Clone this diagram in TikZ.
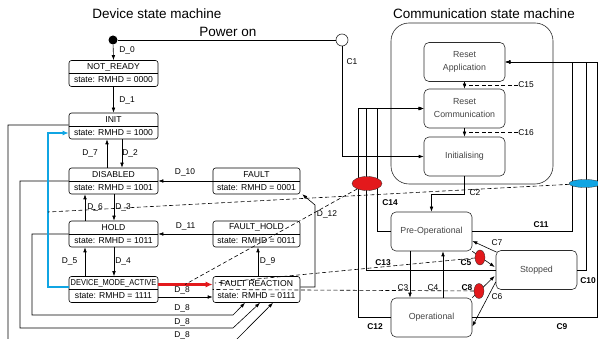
\documentclass[tikz,border=0pt]{standalone}
\usepackage{fontspec}
\setmainfont{Liberation Sans}
\usepackage{graphicx}
\usetikzlibrary{arrows.meta,shapes.geometric}
\definecolor{lnc}{HTML}{2B2B2B}
\definecolor{redc}{HTML}{E3191C}
\definecolor{bluec}{HTML}{10A5E3}
\definecolor{txtc}{HTML}{444444}
\newcommand\devbox[6]{%
  \node[dbox,#6] (#1) at (#2,#3) {};
  \draw[line width=0.6pt] (#1.west) -- (#1.east);
  \node[btxt] (#1t) at ([yshift=6.4pt]#1.center) {#4};
  \node[btxt] (#1s) at ([yshift=-6.4pt]#1.center) {#5};
}
\begin{document}
\begin{tikzpicture}[x=1pt,y=-1pt,
  >={Latex[length=5pt,width=3.6pt]},
  every path/.style={line width=0.6pt},
  dbox/.style={draw, rounded corners=2.5pt, minimum width=89pt, minimum height=26pt, inner sep=0pt, line width=0.6pt},
  cbox/.style={draw=lnc, rounded corners=5pt, minimum width=81pt, minimum height=39pt, inner sep=0pt, align=center, font=\fontsize{8.8}{13}\selectfont, text=txtc, line width=0.6pt},
  btxt/.style={font=\fontsize{8.6}{10}\selectfont, inner sep=0pt},
  lbl/.style={font=\fontsize{8.4}{10}\selectfont, inner sep=0pt},
  blbl/.style={font=\fontsize{8.4}{10}\selectfont\bfseries, inner sep=0pt},
  ttl/.style={font=\fontsize{13.5}{16}\selectfont, inner sep=0pt},
  dsh/.style={dash pattern=on 4pt off 2.5pt, line width=0.6pt},
  mark1/.style={ellipse, fill=redc, draw=lnc, line width=0.3pt, inner sep=0pt},
]
\useasboundingbox (0,0) rectangle (598,339);

% titles
\node[ttl] (T1) at (157,14) {Device state machine};
\node[ttl] (T2) at (484,14) {Communication state machine};

% device state boxes
\devbox{NR}{113.5}{73.5}{NOT\_READY}{state: RMHD = 0000}{}
\devbox{IN}{113.5}{126}{INIT}{state: RMHD = 1000}{}
\devbox{DI}{113.5}{181}{DISABLED}{state: RMHD = 1001}{}
\devbox{HO}{113.5}{234}{HOLD}{state: RMHD = 1011}{}
\devbox{DM}{113.5}{289.5}{\scalebox{0.87}[1]{DEVICE\_MODE\_ACTIVE}}{state: RMHD = 1111}{}
\devbox{FA}{256.5}{181}{FAULT}{state: RMHD = 0001}{minimum width=87pt}
\devbox{FH}{256.5}{234}{FAULT\_HOLD}{state: RMHD = 0011}{minimum width=87pt}
\node[dbox, minimum width=87pt] (FR) at (256.5,289.5) {};
\node[btxt] (FRt) at ([yshift=6.4pt]FR.center) {FAULT REACTION};
\node[btxt] (FRs) at ([yshift=-6.4pt]FR.center) {state: RMHD = 0111};

% start and power on
\node[circle, fill=black, inner sep=0pt, minimum size=9pt] (SD) at (113,40) {};
\node[circle, draw=lnc, inner sep=0pt, minimum size=12pt] (OC) at (342,40) {};
\draw (SD) -- (OC);
\node[ttl] (PW) at (228,32) {Power on};

% device transitions
\draw[->] (SD) -- (NR.north);
\draw[->] (NR.south) -- (IN.north);
\draw[->] ([xshift=8.5pt]IN.south) -- ([xshift=8.5pt]DI.north);
\draw[->] ([xshift=-6.5pt]DI.north) -- ([xshift=-6.5pt]IN.south);
\draw[->] ([xshift=0.5pt]DI.south) -- ([xshift=0.5pt]HO.north);
\draw[->] ([xshift=-28.5pt]HO.north) -- ([xshift=-28.5pt]DI.south);
\draw[->] ([xshift=0.5pt]HO.south) -- ([xshift=0.5pt]DM.north);
\draw[->] ([xshift=-28.5pt]DM.north) -- ([xshift=-28.5pt]HO.south);
\draw[->] (FA.west) -- (DI.east);
\draw[->] (FH.west) -- (HO.east);
\draw[->] ([xshift=1.5pt]FR.north) -- ([xshift=1.5pt]FH.south);
\draw[->] ([yshift=-7.5pt]DM.east) -- ([yshift=-7.5pt]FR.west);
\draw[->] ([yshift=2.5pt]FR.east) -- (315,287) -- (315,205) -- ([xshift=2pt]FA.south east);
\draw[->] (HO.west) -- (32,234) -- (32,315) -- (233,315) -- ([xshift=-11.5pt]FR.south);
\draw[->] (DI.west) -- (20,181) -- (20,328) -- (233,328) -- ([xshift=3.5pt]FR.south);
\draw[->] ([yshift=1pt]IN.west) -- (8,125) -- (8,345) -- (231,345) -- ([xshift=16.5pt]FR.south);

% highlighted transitions
\draw[bluec, line width=2pt, -{Latex[length=6pt,width=5pt]}] ([yshift=2.5pt]DM.west) -- (48,287) |- ([yshift=-7pt]IN.west);
\draw[redc, line width=2.4pt, -{Latex[length=7pt,width=6pt]}] ([yshift=5pt]DM.east) -- ([yshift=5pt]FR.west);

% device labels
\node[lbl] (L0) at (127,50) {D\_0};
\node[lbl] (L1) at (127,100) {D\_1};
\node[lbl] (L7) at (90,153) {D\_7};
\node[lbl] (L2) at (130,153) {D\_2};
\node[lbl] (L6) at (95,207) {D\_6};
\node[lbl] (L3) at (123,207) {D\_3};
\node[lbl] (L5) at (69.5,261) {D\_5};
\node[lbl] (L4) at (123,261) {D\_4};
\node[lbl] (L10) at (185,172) {D\_10};
\node[lbl] (L11) at (185.5,226) {D\_11};
\node[lbl] (L9) at (267.5,261) {D\_9};
\node[lbl] (L12) at (327,214) {D\_12};
\node[lbl] (L8a) at (182,290.5) {D\_8};
\node[lbl] (L8b) at (182,308) {D\_8};
\node[lbl] (L8c) at (182,322) {D\_8};
\node[lbl] (L8d) at (182,335) {D\_8};

% communication state machine
\node[draw=lnc, rounded corners=18pt, minimum width=162pt, minimum height=161pt, inner sep=0pt] (CB) at (472,103.5) {};
\node[cbox] (RA) at (464.5,62) {Reset\\Application};
\node[cbox] (RC) at (464.5,108.5) {Reset\\Communication};
\node[cbox] (INI) at (464.5,156.5) {Initialising};
\node[cbox] (PO) at (431.5,231.5) {Pre-Operational};
\node[cbox] (OP) at (431.5,317.5) {Operational};
\node[cbox] (ST) at (536.5,270) {Stopped};

\draw[->] (OC.south) |- (INI.west);
\draw[->] (RA.south) -- (RC.north);
\draw[->] (RC.south) -- (INI.north);
\node[lbl, anchor=west] (C15) at (518,85) {C15};
\node[lbl, anchor=west] (C16) at (518,132.5) {C16};
\draw[dsh] (C15.west) -- (C15.west -| RA.south);
\draw[dsh] (C16.west) -- (C16.west -| RC.south);
\draw[->] (INI.south) -- ++(0,18) -| (PO.north);
\draw[->] ([xshift=-21.5pt]PO.south) -- ([xshift=-21.5pt]OP.north);
\draw[->] ([xshift=11.5pt]OP.north) -- ([xshift=11.5pt]PO.south);
\draw[->] (OP.west) -- ++(-32,0) |- (RC.west);
\draw[->] (ST.west) -- ++(-129,0) |- (RC.west);
\draw[->] (PO.west) -- ++(-13,0) |- (RC.west);
\draw[->] (PO.east) -- (572,231.5) |- (RA.east);
\draw[->] (ST.east) -- (586,270) |- (RA.east);
\draw[->] (OP.east) -- (597.5,317.5) |- (RA.east);
\draw[->] ([shift={(1,2)}]ST.north west) -- ([yshift=-9.5pt]PO.east);
\draw[->] (PO.south east) -- ([shift={(-1,-3)}]ST.west);
\draw[->] (OP.north east) -- ([shift={(-1,6)}]ST.west);
\draw[->] ([yshift=-12pt]ST.west) -- ([yshift=-9pt]OP.east);

% markers
\node[mark1, minimum width=30pt, minimum height=14pt] (E1) at (367,183.5) {};
\node[ellipse, fill=bluec, draw=lnc, line width=0.3pt, inner sep=0pt, minimum width=32pt, minimum height=8pt] (EB) at (585,183.5) {};
\node[mark1, minimum width=10pt, minimum height=15pt] (E2) at (480,257.5) {};
\node[mark1, minimum width=10pt, minimum height=15pt] (E3) at (479,291) {};
\coordinate (BL) at (48,212);
\coordinate (RA1) at (185,284.5);
\coordinate (FRa) at (215,283);
\draw[dsh] (EB) -- (BL);
\draw[dsh] (E1) -- (RA1);
\draw[dsh] (E2) -- (FRa);
\draw[dsh] (E3) -- (FR.west);

% communication labels
\node[lbl] (C1) at (352,62) {C1};
\node[lbl] (C2) at (475,193) {C2};
\node[lbl] (C3) at (403,288) {C3};
\node[lbl] (C4) at (433,288) {C4};
\node[lbl] (C7) at (497,243) {C7};
\node[lbl] (C6) at (497,297) {C6};
\node[blbl] (C5) at (466,263) {C5};
\node[blbl] (C8) at (467,288) {C8};
\node[blbl] (C13) at (383,263) {C13};
\node[blbl] (C14) at (390,203) {C14};
\node[blbl] (C11) at (541,225) {C11};
\node[blbl] (C10) at (588,281) {C10};
\node[blbl] (C12) at (375,327) {C12};
\node[blbl] (C9) at (562,327) {C9};
\end{tikzpicture}
\end{document}
